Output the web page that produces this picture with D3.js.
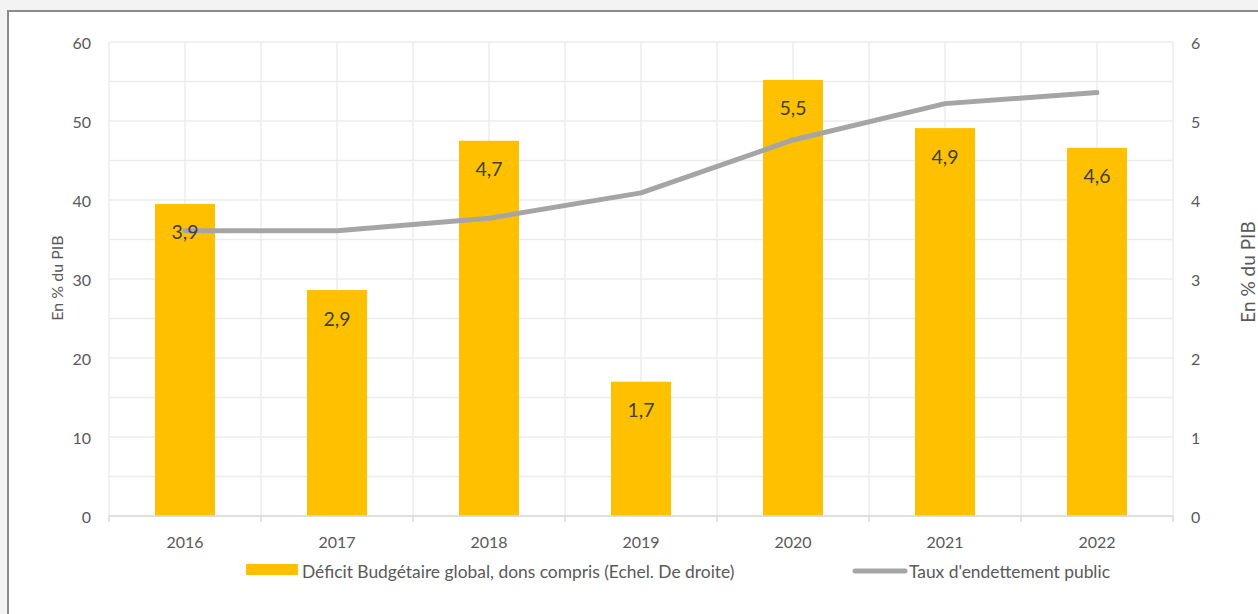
<!DOCTYPE html>
<html><head><meta charset="utf-8">
<script src="https://cdn.jsdelivr.net/npm/d3@7"></script>
<style>
html,body{margin:0;padding:0;background:#f3f3f3;}
svg{display:block;}
text{font-family:Lato,"Open Sans",sans-serif;fill:#595959;}
</style></head>
<body>
<svg id="chart" width="1258" height="614"></svg>
<script>
const years = ["2016","2017","2018","2019","2020","2021","2022"];
const deficit = [3.95, 2.86, 4.75, 1.7, 5.52, 4.91, 4.66];
const deficitLabels = ["3,9","2,9","4,7","1,7","5,5","4,9","4,6"];
const debt = [36.1, 36.1, 37.7, 40.9, 47.6, 52.2, 53.6];
const leftTicks = [0,10,20,30,40,50,60];
const rightTicks = [0,1,2,3,4,5,6];
const seriesNames = ["Déficit Budgétaire global, dons compris (Echel. De droite)","Taux d'endettement public"];

const svg = d3.select("#chart");
const m = {left:109, right:1173, top:42, bottom:516};

svg.append("rect").attr("x",8).attr("y",11).attr("width",1270).attr("height",620)
  .attr("fill","#fff").attr("stroke","#8a8a8a").attr("stroke-width",2);

const x = d3.scaleBand().domain(years).range([m.left,m.right]).paddingInner(0).paddingOuter(0);
const yL = d3.scaleLinear().domain([0,60]).range([m.bottom,m.top]);
const yR = d3.scaleLinear().domain([0,6]).range([m.bottom,m.top]);

// gridlines
const g = svg.append("g");
const hGrid = d3.range(0,61,5);
g.selectAll("line.h").data(hGrid).join("line")
  .attr("x1",m.left).attr("x2",m.right)
  .attr("y1",d=>yL(d)).attr("y2",d=>yL(d))
  .attr("stroke","#ececec").attr("stroke-width",1.5);
const vGrid = [];
years.forEach(y=>{vGrid.push(x(y)); vGrid.push(x(y)+x.bandwidth()/2);});
vGrid.push(m.right);
g.selectAll("line.v").data(vGrid).join("line")
  .attr("x1",d=>d).attr("x2",d=>d)
  .attr("y1",m.top).attr("y2",m.bottom)
  .attr("stroke","#ececec").attr("stroke-width",1.5);

// bars
const bw = 60;
svg.append("g").selectAll("rect").data(years).join("rect")
  .attr("x",(d)=>x(d)+x.bandwidth()/2-bw/2)
  .attr("width",bw)
  .attr("y",(d,i)=>yR(deficit[i]))
  .attr("height",(d,i)=>yR(0)-yR(deficit[i]))
  .attr("fill","#ffc000");

// line
const line = d3.line().x((d,i)=>x(years[i])+x.bandwidth()/2).y(d=>yL(d));
svg.append("path").datum(debt).attr("d",line)
  .attr("fill","none").attr("stroke","#a5a5a5").attr("stroke-width",5)
  .attr("stroke-linecap","round").attr("stroke-linejoin","round");

// data labels
svg.append("g").selectAll("text").data(years).join("text")
  .attr("x",d=>x(d)+x.bandwidth()/2)
  .attr("y",(d,i)=>yR(deficit[i])+28)
  .attr("text-anchor","middle").attr("dominant-baseline","central")
  .style("font-size","19.5px").style("fill","#404040")
  .text((d,i)=>deficitLabels[i]);

// bottom axis
svg.append("line").attr("x1",m.left).attr("x2",m.right).attr("y1",m.bottom).attr("y2",m.bottom)
  .attr("stroke","#d9d9d9").attr("stroke-width",1.5);
const bTicks = years.map(y=>x(y)).concat([m.right]);
svg.append("g").selectAll("line").data(bTicks).join("line")
  .attr("x1",d=>d).attr("x2",d=>d).attr("y1",m.bottom).attr("y2",m.bottom+6)
  .attr("stroke","#d9d9d9").attr("stroke-width",1.5);
svg.append("g").selectAll("text").data(years).join("text")
  .attr("x",d=>x(d)+x.bandwidth()/2).attr("y",541)
  .attr("text-anchor","middle").attr("dominant-baseline","central")
  .style("font-size","16px").text(d=>d);

// left ticks
svg.append("g").selectAll("text").data(leftTicks).join("text")
  .attr("x",91).attr("y",d=>yL(d))
  .attr("text-anchor","end").attr("dominant-baseline","central")
  .style("font-size","16px").text(d=>d);
// right ticks
svg.append("g").selectAll("text").data(rightTicks).join("text")
  .attr("x",1191).attr("y",d=>yR(d))
  .attr("text-anchor","start").attr("dominant-baseline","central")
  .style("font-size","16px").text(d=>d);

// axis titles
svg.append("text").attr("transform","translate(56,278) rotate(-90)")
  .attr("text-anchor","middle").attr("dominant-baseline","central")
  .style("font-size","16px").text("En % du PIB");
svg.append("text").attr("transform","translate(1247,272) rotate(-90)")
  .attr("text-anchor","middle").attr("dominant-baseline","central")
  .style("font-size","19px").text("En % du PIB");

// legend
svg.append("rect").attr("x",246).attr("y",564).attr("width",52).attr("height",11).attr("fill","#ffc000");
svg.append("text").attr("x",302).attr("y",571).attr("dominant-baseline","central")
  .style("font-size","17.4px").text(seriesNames[0]);
svg.append("line").attr("x1",855).attr("x2",905).attr("y1",571).attr("y2",571)
  .attr("stroke","#a5a5a5").attr("stroke-width",5).attr("stroke-linecap","round");
svg.append("text").attr("x",909).attr("y",571).attr("dominant-baseline","central")
  .style("font-size","17.4px").text(seriesNames[1]);
</script>
</body></html>
